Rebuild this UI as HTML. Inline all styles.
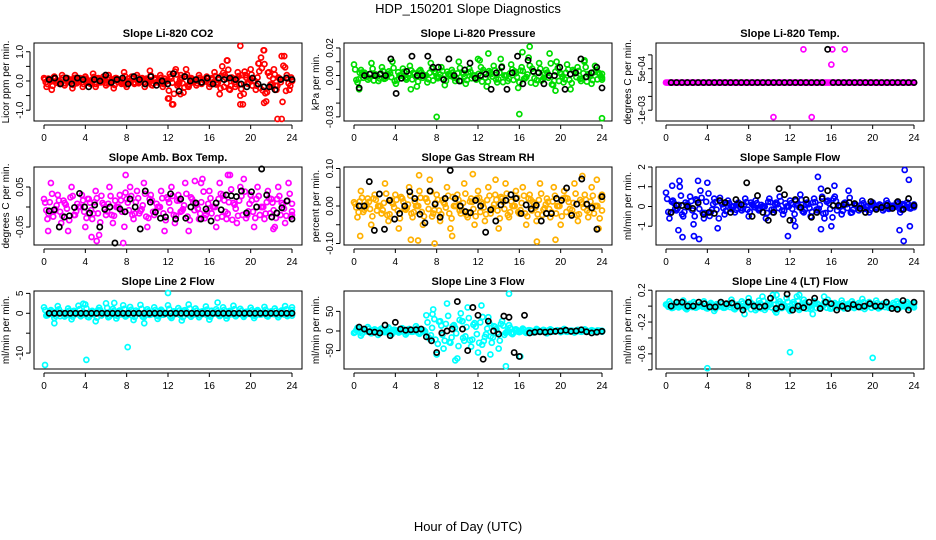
<!DOCTYPE html>
<html><head><meta charset="utf-8">
<style>
html,body{margin:0;padding:0;background:#fff;}
svg{display:block;font-family:"Liberation Sans",Arial,sans-serif;}
.tk{font-size:10px;fill:#000;}
.pt{font-size:11px;font-weight:bold;fill:#000;}
.yt{font-size:10px;fill:#000;}
</style></head>
<body>
<svg id="chart" width="936" height="540" viewBox="0 0 936 540">
<text x="468" y="13" text-anchor="middle" font-size="13">HDP_150201  Slope Diagnostics</text>
<text x="468" y="531" text-anchor="middle" font-size="13">Hour of Day (UTC)</text>
</svg>
<script>
// ---------------- data ----------------
const xTicks = [0,4,8,12,16,20,24];

const co2Main = [0.1,-0.2,0.05,-0.3,0.15,0.0,-0.1,0.2,-0.15,0.1,0.05,-0.25,0.2,-0.05,0.1,-0.2,0.15,0.0,-0.1,0.25,-0.2,0.1,-0.05,0.15,-0.15,0.2,0.0,-0.25,0.1,0.05,-0.1,0.3,-0.2,0.0,0.15,-0.1,0.2,-0.05,0.1,-0.2,0.05,0.35,-0.15,0.1,-0.05,0.2,-0.2,0.0,-0.6,0.15,-0.8,0.4,-0.1,0.2,-0.4,0.4,-0.2,0.1,0.0,-0.15,0.2,-0.1,0.05,0.15,-0.2,0.1,0.3,-0.1,-0.45,0.5,0.2,0.7,-0.3,0.1,-0.2,0.3,-0.5,-0.8,0.2,-0.1,0.4,0.0,-0.3,0.6,0.8,1.05,-0.7,0.3,-0.2,0.4,-0.3,0.1,-1.3,0.85,0.2,-0.3,0.0];
const co2Extra = [[19,1.2],[12.1,-0.6],[12.4,-0.8],[19,-0.8],[21.3,-0.75],[17.7,0.7],[21.3,1.05],[22.6,-1.3],[23,0.85],[20.8,0.6],[13.2,-0.45]];
const co2Black = [0.05,0.1,-0.1,0.1,-0.1,0.1,0.05,-0.2,0.05,0.0,0.2,-0.05,0.05,0.1,-0.1,0.15,0.05,-0.1,0.15,-0.15,0.0,-0.1,0.25,-0.35,0.15,0.0,0.05,-0.05,0.1,-0.1,0.1,0.05,0.1,0.05,-0.1,-0.2,0.1,-0.1,-0.2,-0.2,-0.3,0.05,0.1,0.05];

const presMain = [0.008,-0.005,0.004,0.002,-0.003,0.009,0.001,-0.004,0.006,-0.002,0.003,0.010,-0.006,0.0,0.005,-0.003,0.007,0.002,-0.008,0.004,0.0,-0.005,0.009,0.003,-0.002,0.006,-0.007,0.001,0.004,-0.004,0.010,0.002,-0.006,0.005,0.0,-0.003,0.011,0.004,-0.008,0.002,0.007,-0.005,0.012,0.0,-0.004,0.008,0.003,-0.009,0.006,-0.002,0.013,0.005,-0.006,0.009,-0.003,0.004,0.016,-0.007,0.010,0.002,-0.005,0.008,-0.010,0.003,0.006,-0.004,0.011,0.001,-0.006,0.007,0.002,-0.003];
const presExtra = [[8,-0.030],[16,-0.028],[24,-0.031],[17,0.021],[16.3,0.017],[13,0.016],[5.5,-0.010],[0.5,-0.010],[12,0.012],[22.3,0.010],[19.5,-0.011]];
const presBlack = [-0.009,0.0,0.001,0.0,0.001,0.0,0.012,-0.013,-0.002,0.003,0.014,0.0,0.0,0.014,0.006,0.006,-0.003,0.012,0.0,-0.004,0.004,0.009,-0.002,0.0,0.001,-0.010,0.002,0.006,-0.010,0.002,0.014,-0.006,0.011,0.003,0.002,-0.006,0.0,0.0,0.006,-0.010,0.001,0.002,0.012,-0.001,0.002,0.006,-0.009];

const tempMain = [0,0,0,0,0,0,0,0,0,0,0,0,0,0,0,0,0,0,0,0,0,0,0,0,0,0,0,0,0,0,0,0,0,0,0,0,0,0,0,0,0,0,0,0,0,0,0,0,0,0,0,0,0,0,0,0,0,0,0,0,0,0,0,0,0,0,0,0,0,0,0,0,0];
const tempExtra = [[10.4,-0.00125],[14.1,-0.00125],[13.3,0.0012],[16.1,0.0012],[17.3,0.0012],[16,0.00065]];
const tempBlack = [0,0,0,0,0,0,0,0,0,0,0,0,0,0,0,0,0,0,0,0,0,0,0,0,0,0,0,0,0,0.0012,0,0,0,0,0,0,0,0,0,0,0,0,0,0,0,0];

const ambMain = [0.02,-0.03,0.06,-0.01,0.03,-0.04,0.01,-0.06,0.05,-0.02,0.0,0.03,-0.05,0.02,-0.03,0.04,-0.07,0.01,-0.02,0.05,-0.04,0.0,0.03,-0.09,0.02,0.05,-0.03,0.04,-0.01,0.06,-0.05,0.03,-0.02,0.0,0.04,-0.06,0.02,0.05,-0.04,0.03,-0.01,0.06,-0.06,0.02,0.01,-0.03,0.07,-0.02,0.04,0.0,-0.05,0.06,0.03,-0.03,0.08,0.01,-0.04,0.05,0.07,-0.02,0.03,-0.05,0.05,0.0,-0.03,0.04,0.02,-0.05,0.05,0.01,-0.04,0.06,-0.02];
const ambExtra = [[4.6,-0.075],[5.1,-0.085],[0.4,-0.06],[14.6,0.065],[17.8,0.08],[7.9,0.08],[22.2,-0.055],[15.2,0.06]];
const ambBlack = [-0.01,-0.007,-0.05,-0.025,-0.022,-0.001,0.034,0.0,-0.015,0.005,-0.05,-0.006,0.0,-0.09,-0.005,-0.012,0.02,0.0,-0.055,0.04,0.012,-0.013,-0.028,-0.025,0.033,-0.03,0.02,-0.028,0.0,0.01,-0.03,-0.005,-0.035,0.01,-0.007,0.03,0.028,0.026,0.04,-0.015,0.038,0.0,0.095,0.03,-0.025,-0.015,-0.002,0.015,-0.03];

const rhMain = [0.01,-0.03,0.04,-0.01,0.02,-0.05,0.03,0.0,-0.02,0.06,-0.04,0.01,0.03,-0.06,0.02,-0.01,0.05,-0.03,0.0,0.04,-0.05,0.02,0.07,-0.02,0.03,-0.04,0.01,0.05,-0.06,0.0,0.03,-0.02,0.06,-0.03,0.02,-0.05,0.04,0.01,-0.04,0.05,-0.01,0.03,-0.06,0.02,0.06,-0.03,0.0,0.04,-0.02,0.05,-0.05,0.03,0.01,-0.04,0.06,-0.01,0.02,-0.03,0.05,0.0,-0.05,0.04,0.02,-0.02,0.06,-0.04,0.01,0.03,-0.03,0.05,0.0,-0.06,0.03];
const rhExtra = [[0.6,-0.08],[7.8,-0.1],[17.7,-0.095],[19.5,-0.09],[5.5,-0.09],[6.2,-0.092],[9.5,-0.08],[11.5,0.085],[6.3,0.082],[22.1,0.08],[23.5,0.07],[13.7,0.07]];
const rhBlack = [0.0,0.0,0.065,-0.065,0.032,-0.062,0.015,-0.035,-0.02,0.0,0.038,0.02,-0.022,-0.045,0.04,0.005,-0.03,0.02,0.095,0.02,0.0,-0.015,-0.018,0.015,0.0,-0.07,-0.01,-0.04,0.003,0.015,0.03,0.02,-0.02,0.003,-0.008,0.002,-0.04,-0.02,-0.02,0.02,0.015,0.048,-0.025,0.005,0.072,0.005,-0.005,-0.062,0.025];

const sfMain = [0.7,-0.6,0.3,-0.2,1.0,-0.5,0.1,0.5,-0.9,0.3,0.8,-0.6,1.2,-0.3,0.4,-1.1,0.2,-0.4,0.3,0.0,-0.3,0.2,-0.2,0.4,-0.5,0.1,0.3,-0.2,0.0,-0.6,0.4,-0.3,0.2,0.5,-0.4,0.0,0.3,-0.7,0.1,0.6,-0.3,0.2,-0.5,0.4,-0.2,0.9,-0.6,0.3,-1.0,0.5,0.0,-0.4,0.2,0.8,-0.3,0.1,-0.2,0.3,0.0,-0.3,0.2,-0.1,0.1,-0.2,0.3,-0.1,0.0,0.2,-0.3,0.1,0.2,-0.1,0.1];
const sfExtra = [[1.3,1.3],[1.6,-1.55],[2.7,-1.5],[3.2,-1.65],[3.1,1.3],[1.2,-1.2],[14.7,1.5],[11.8,-1.5],[22.6,-1.2],[23,-1.75],[23.1,1.85],[23.5,1.35],[23.6,-1.0],[12.5,-1.0],[0.6,1.05],[16.3,1.05],[15,-1.15]];
const sfBlack = [-0.3,0.05,0.05,0.0,-0.1,0.2,-0.4,-0.3,-0.35,0.3,0.2,-0.3,0.35,0.1,1.2,-0.5,0.55,-0.3,-0.7,-0.3,0.9,0.6,-0.7,0.35,-0.05,0.35,-0.55,-0.3,0.4,0.8,0.05,0.05,0.1,0.2,0.15,-0.1,-0.3,0.25,-0.15,-0.05,0.05,-0.1,0.25,-0.15,0.4,0.05];

const l2Main = [1.5,-0.5,0.8,-1.2,1.8,0.2,-0.8,1.2,-1.5,0.5,1.9,-0.4,2.2,-1.0,0.6,-2.0,1.4,0.0,2.5,-0.8,1.1,-1.3,0.7,2.0,-0.6,1.6,-1.7,0.3,2.1,-1.0,1.0,-0.3,1.5,-1.4,0.9,-0.2,2.0,-1.2,0.4,1.3,-1.8,0.8,2.2,-0.5,1.2,-1.0,0.5,1.7,-1.6,0.2,1.0,-0.7,1.5,-1.3,0.6,1.9,-0.4,1.1,-0.9,0.4,1.4,-1.2,0.8,-0.3,1.6,-0.8,0.5,1.2,-1.0,0.7,1.8,-0.4,1.5];
const l2Extra = [[0.1,-13],[4.1,-11.7],[8.1,-8.5],[12,5.1],[16.8,2.7],[1.0,-2.5],[9.7,-2.5],[6.8,2.6],[3.8,2.4]];
const l2Black = [0,0,0,0,0,0,0,0,0,0,0,0,0,0,0,0,0,0,0,0,0,0,0,0,0,0,0,0,0,0,0,0,0,0,0,0,0,0,0,0,0,0,0,0,0,0,0];

const l3Main = [-5,8,-12,3,10,-6,4,-10,6,-3,9,-8,2,-4,7,-9,5,-2,12,-7,3,40,-20,55,-60,25,-45,70,-30,15,-70,45,-25,60,-40,20,-55,65,-15,35,-30,10,-45,25,-5,15,-8,4,-3,6,-5,2,-4,5,-2,3,-6,4,-1,2,-3,5,-2,1,-4,3,-2,4,-1,2,-3,1,-2];
const l3Extra = [[15,95],[14.7,-90],[9.8,-75],[7.6,43],[16.1,-65],[12.4,-35],[13.2,-60],[10.5,25]];
const l3Black = [10,5,-2,-3,-5,15,-12,22,5,2,3,3,5,-15,-25,-55,-5,0,5,75,5,-50,60,40,-72,25,0,-8,38,35,-55,-65,40,-5,-3,-2,-3,-2,-1,0,2,-1,0,3,-2,-5,-3,-1];

const l4Main = [0.02,0.06,-0.02,0.04,0.0,0.07,-0.04,0.03,0.05,-0.01,0.02,0.06,-0.03,0.04,-0.06,0.01,0.05,-0.02,0.03,0.08,-0.04,0.02,0.06,-0.01,0.10,0.03,-0.05,0.07,0.12,-0.02,0.04,0.14,-0.08,0.06,0.02,0.10,-0.06,0.05,0.12,-0.03,0.08,0.01,-0.04,0.06,0.03,-0.01,0.05,0.08,-0.03,0.04,0.02,0.07,-0.02,0.03,0.06,0.0,0.04,0.09,-0.01,0.05,0.02,0.07,-0.02,0.03,0.05,0.01,0.04,0.06,0.0,0.03,0.05,0.02,0.04];
const l4Extra = [[4,-0.78],[12,-0.58],[20,-0.65],[10.7,0.14],[12.9,0.14],[15.3,0.12],[7.6,-0.1],[14.2,-0.1]];
const l4Black = [0.0,0.05,0.05,0.0,0.0,0.05,0.03,-0.01,-0.01,0.05,0.03,0.04,0.0,-0.05,0.05,0.0,-0.01,0.0,0.1,-0.03,-0.01,0.15,-0.05,0.0,-0.02,0.05,0.1,-0.03,0.05,0.03,-0.05,0.0,-0.03,0.02,-0.01,0.0,0.03,0.0,0.0,0.05,-0.03,-0.04,0.07,-0.05,0.05];

// ---------------- layout ----------------
const panels = [
 {id:'co2',title:'Slope Li-820 CO2',ylab:'Licor ppm per min.',col:0,row:0,y0:-1.37,y1:1.3,ticks:[-1,-0.5,0,0.5,1],labels:{'-1':'-1.0','0':'0.0','1':'1.0'},color:'#ff0000',main:co2Main,extra:co2Extra,black:co2Black},
 {id:'pressure',title:'Slope Li-820 Pressure',ylab:'kPa per min.',col:1,row:0,y0:-0.033,y1:0.0236,ticks:[-0.03,-0.02,-0.01,0,0.01,0.02],labels:{'-0.03':'-0.03','0':'0.00','0.02':'0.02'},color:'#00dd00',main:presMain,extra:presExtra,black:presBlack},
 {id:'temp',title:'Slope Li-820 Temp.',ylab:'degrees C per min.',col:2,row:0,y0:-0.00139,y1:0.00143,ticks:[-0.001,-0.0005,0,0.0005,0.001],labels:{'-0.001':'-1e-03','0.0005':'5e-04'},color:'#ff00ff',main:tempMain,extra:tempExtra,black:tempBlack},
 {id:'amb-temp',title:'Slope Amb. Box Temp.',ylab:'degrees C per min.',col:0,row:1,y0:-0.095,y1:0.1,ticks:[-0.05,0,0.05],labels:{'-0.05':'-0.05','0.05':'0.05'},color:'#ff00ff',main:ambMain,extra:ambExtra,black:ambBlack},
 {id:'rh',title:'Slope Gas Stream RH',ylab:'percent per min.',col:1,row:1,y0:-0.104,y1:0.104,ticks:[-0.1,-0.05,0,0.05,0.1],labels:{'-0.1':'-0.10','0':'0.00','0.1':'0.10'},color:'#ffb000',main:rhMain,extra:rhExtra,black:rhBlack},
 {id:'sample-flow',title:'Slope Sample Flow',ylab:'ml/min per min.',col:2,row:1,y0:-1.95,y1:2.0,ticks:[-1,0,1,2],labels:{'-1':'-1','0':'0','1':'1','2':'2'},color:'#0000ff',main:sfMain,extra:sfExtra,black:sfBlack},
 {id:'line2',title:'Slope Line 2 Flow',ylab:'ml/min per min.',col:0,row:2,y0:-14,y1:5.6,ticks:[-10,-5,0,5],labels:{'-10':'-10','0':'0','5':'5'},color:'#00ffff',main:l2Main,extra:l2Extra,black:l2Black},
 {id:'line3',title:'Slope Line 3 Flow',ylab:'ml/min per min.',col:1,row:2,y0:-97,y1:102,ticks:[-50,0,50],labels:{'-50':'-50','0':'0','50':'50'},color:'#00ffff',main:l3Main,extra:l3Extra,black:l3Black},
 {id:'line4',title:'Slope Line 4 (LT) Flow',ylab:'ml/min per min.',col:2,row:2,y0:-0.79,y1:0.19,ticks:[-0.8,-0.6,-0.4,-0.2,0,0.2],labels:{'-0.6':'-0.6','-0.2':'-0.2','0.2':'0.2'},color:'#00ffff',main:l4Main,extra:l4Extra,black:l4Black}
];
const colX = [34,344,656];
const rowY = [43,167,291];
const W = 268, H = 78;
const NS = 'http://www.w3.org/2000/svg';
const svg = document.getElementById('chart');
function mk(tag, attrs, parent){
  const e = document.createElementNS(NS, tag);
  for (const k in attrs) e.setAttribute(k, attrs[k]);
  (parent||svg).appendChild(e);
  return e;
}
panels.forEach(p => {
  const L = colX[p.col], T = rowY[p.row];
  const g = mk('g', {});
  
  
  const xs = v => L + 10 + (v / 24) * (W - 20);
  const ys = v => T + (p.y1 - v) / (p.y1 - p.y0) * H;
  // title
  const tt = mk('text', {x: L + W/2, y: T - 6, 'text-anchor':'middle', class:'pt'}, g);
  tt.textContent = p.title;
  
  
  // box
  const box = mk('rect', {x:L, y:T, width:W, height:H, fill:'none', stroke:'#000', 'stroke-width':1}, g);
  
  
  // x axis
  const xa = mk('g', {}, g);
  
  
  mk('line', {x1:xs(0), x2:xs(24), y1:T+H+4, y2:T+H+4, stroke:'#000'}, xa);
  xTicks.forEach(t => {
    mk('line', {x1:xs(t), x2:xs(t), y1:T+H+4, y2:T+H+8, stroke:'#000'}, xa);
    const lb = mk('text', {x:xs(t), y:T+H+20, 'text-anchor':'middle', class:'tk'}, xa);
    lb.textContent = t;
    
    
  });
  // y axis
  const ya = mk('g', {}, g);
  
  
  const tmin = p.ticks[0], tmax = p.ticks[p.ticks.length-1];
  mk('line', {x1:L-4, x2:L-4, y1:ys(tmin), y2:ys(tmax), stroke:'#000'}, ya);
  p.ticks.forEach(t => {
    mk('line', {x1:L-8, x2:L-4, y1:ys(t), y2:ys(t), stroke:'#000'}, ya);
    const key = String(t);
    if (p.labels[key] !== undefined) {
      const lb = mk('text', {x:0, y:0, 'text-anchor':'middle', class:'tk', transform:`translate(${L-11},${ys(t)}) rotate(-90)`}, ya);
      lb.textContent = p.labels[key];
      
      
    }
  });
  const yl = mk('text', {x:0, y:0, 'text-anchor':'middle', class:'yt', transform:`translate(${L-25},${T+H/2}) rotate(-90)`}, g);
  yl.textContent = p.ylab;
  
  
  // colored series
  const sg = mk('g', {fill:'none', stroke:p.color, 'stroke-width':1.7}, g);
  
  
  const n = p.main.length;
  p.main.forEach((v, i) => {
    const t = i * 24 / (n - 1);
    for (let k = 0; k < 3; k++) {
      const tt2 = Math.min(24, t + k * 24 / (n - 1) / 3);
      const c = mk('circle', {cx:xs(tt2), cy:ys(v * (k === 1 ? 0.55 : (k === 2 ? -0.4 : 1))), r:2.5}, sg);
      
      
    }
  });
  p.extra.forEach(d => {
    const c = mk('circle', {cx:xs(d[0]), cy:ys(d[1]), r:2.5}, sg);
    
    
  });
  // black series
  const bg = mk('g', {fill:'none', stroke:'#000', 'stroke-width':1.7}, g);
  
  
  const m = p.black.length;
  p.black.forEach((v, i) => {
    const t = 0.5 + i * 23.5 / (m - 1);
    const c = mk('circle', {cx:xs(t), cy:ys(v), r:2.6}, bg);
    
    
  });
});
</script>
</body></html>
